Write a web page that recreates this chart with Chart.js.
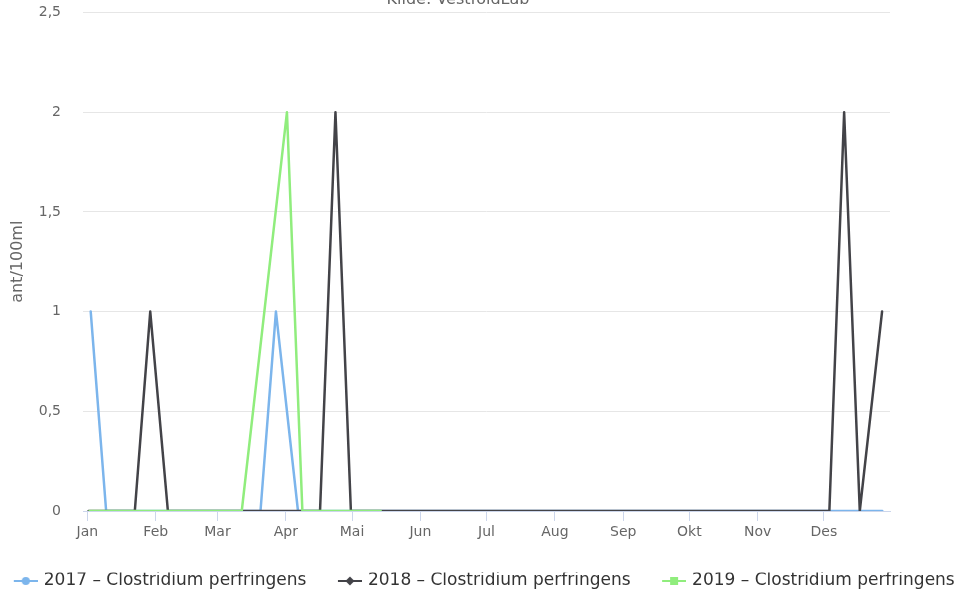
<!DOCTYPE html>
<html>
<head>
<meta charset="utf-8">
<script src="https://cdn.jsdelivr.net/npm/chart.js@4/dist/chart.umd.min.js"></script>
<style>
    html, body { margin: 0; padding: 0; background: #fff; }
    #wrap { position: relative; width: 959px; height: 598px; }
</style>
</head>
<body>
<div id="wrap"><canvas id="chart" width="959" height="598"></canvas></div>
<script>
// Month axis (day of year, non-leap)
const monthNames = ['Jan', 'Feb', 'Mar', 'Apr', 'Mai', 'Jun', 'Jul', 'Aug', 'Sep', 'Okt', 'Nov', 'Des'];
const monthStarts = [0, 31, 59, 90, 120, 151, 181, 212, 243, 273, 304, 334];
const yTicks = [0, 0.5, 1, 1.5, 2, 2.5];

const sourceText = 'Kilde: VestfoldLab';
const yTitle = 'ant/100ml';

// 2017 - blue
const days2017 = [1.5, 8.5, 78.5, 85.5, 95.5, 360.5];
const vals2017 = [1, 0, 0, 1, 0, 0];

// 2018 - black
const days2018 = [0.5, 21.5, 28.5, 36.5, 105.5, 112.5, 119.5, 336.5, 343.2, 350.3, 360.4];
const vals2018 = [0, 0, 1, 0, 0, 2, 0, 0, 2, 0, 1];

// 2019 - green
const days2019 = [1, 70, 90.5, 97.5, 133];
const vals2019 = [0, 0, 2, 0, 0];

const seriesNames = ['2017 – Clostridium perfringens', '2018 – Clostridium perfringens', '2019 – Clostridium perfringens'];
const seriesColors = ['#7cb5ec', '#434348', '#90ed7d'];
const seriesMarkers = ['circle', 'diamond', 'square'];

function toPoints(days, vals) {
    return days.map((d, i) => ({ x: d, y: vals[i] }));
}

// legend symbol: short line with marker, drawn into a small canvas
function legendSymbol(color, marker) {
    const c = document.createElement('canvas');
    c.width = 58;
    c.height = 16;
    const g = c.getContext('2d');
    g.strokeStyle = color;
    g.lineWidth = 2;
    g.beginPath();
    g.moveTo(34, 8);
    g.lineTo(58, 8);
    g.stroke();
    g.fillStyle = color;
    g.beginPath();
    if (marker === 'circle') {
        g.arc(46, 8, 4, 0, Math.PI * 2);
    } else if (marker === 'diamond') {
        g.moveTo(46, 3.5); g.lineTo(50.5, 8); g.lineTo(46, 12.5); g.lineTo(41.5, 8); g.closePath();
    } else {
        g.rect(42, 4, 8, 8);
    }
    g.fill();
    return c;
}

const sourceLabel = {
    id: 'sourceLabel',
    afterDraw(chart) {
        const ctx = chart.ctx;
        ctx.save();
        ctx.font = '16px "DejaVu Sans"';
        ctx.fillStyle = '#666666';
        ctx.textAlign = 'center';
        ctx.textBaseline = 'alphabetic';
        ctx.fillText(sourceText, 458, 4);
        ctx.restore();
    }
};

Chart.defaults.font.family = '"DejaVu Sans", Verdana, sans-serif';
Chart.defaults.color = '#666666';

const allDays = [days2017, days2018, days2019];
const allVals = [vals2017, vals2018, vals2019];

new Chart(document.getElementById('chart'), {
    type: 'line',
    data: {
        datasets: seriesNames.map((name, i) => ({
            label: name,
            data: toPoints(allDays[i], allVals[i]),
            borderColor: seriesColors[i],
            backgroundColor: seriesColors[i],
            borderWidth: 2.5,
            borderJoinStyle: 'round',
            borderCapStyle: 'round',
            pointRadius: 0,
            tension: 0,
            fill: false,
            order: 3 - i
        }))
    },
    options: {
        responsive: false,
        animation: false,
        events: [],
        layout: { padding: { left: -42, right: -20, top: 12.5, bottom: -1.5 } },
        plugins: {
            tooltip: { enabled: false },
            legend: {
                position: 'bottom',
                labels: {
                    usePointStyle: true,
                    pointStyleWidth: 53,
                    padding: 0,
                    color: '#333333',
                    font: { size: 17 },
                    generateLabels(chart) {
                        return chart.data.datasets.map((ds, i) => ({
                            text: ds.label,
                            pointStyle: legendSymbol(seriesColors[i], seriesMarkers[i]),
                            fillStyle: seriesColors[i],
                            strokeStyle: seriesColors[i],
                            lineWidth: 0,
                            fontColor: '#333333',
                            hidden: false,
                            datasetIndex: i
                        }));
                    }
                }
            }
        },
        scales: {
            x: {
                type: 'linear',
                min: -2,
                max: 364,
                afterBuildTicks(scale) {
                    scale.ticks = monthStarts.map(v => ({ value: v }));
                },
                afterFit(scale) { scale.height = 61.5; },
                ticks: {
                    autoSkip: false,
                    maxRotation: 0,
                    padding: 3,
                    color: '#666666',
                    font: { size: 14 },
                    callback: (v) => monthNames[monthStarts.indexOf(v)]
                },
                grid: {
                    display: true,
                    drawOnChartArea: false,
                    drawTicks: true,
                    tickLength: 10,
                    tickColor: '#ccd6eb'
                },
                border: { display: true, color: '#ccd6eb', width: 1 }
            },
            y: {
                min: 0,
                max: 2.5,
                afterBuildTicks(scale) {
                    scale.ticks = yTicks.map(v => ({ value: v }));
                },
                afterFit(scale) { scale.width = 125; },
                ticks: {
                    padding: 0,
                    color: '#666666',
                    font: { size: 14 },
                    callback: (v) => String(v).replace('.', ',')
                },
                grid: {
                    color: '#e6e6e6',
                    lineWidth: 1,
                    drawTicks: true,
                    tickLength: 22,
                    tickColor: 'rgba(0,0,0,0)'
                },
                border: { display: false },
                title: {
                    display: true,
                    text: yTitle,
                    color: '#666666',
                    font: { size: 16 },
                    padding: { top: 50, bottom: 0 }
                }
            },
            yR: {
                type: 'linear',
                position: 'right',
                display: true,
                afterFit(scale) { scale.width = 89; },
                ticks: { display: false },
                grid: { display: false },
                border: { display: false }
            }
        }
    },
    plugins: [sourceLabel]
});
</script>
</body>
</html>
